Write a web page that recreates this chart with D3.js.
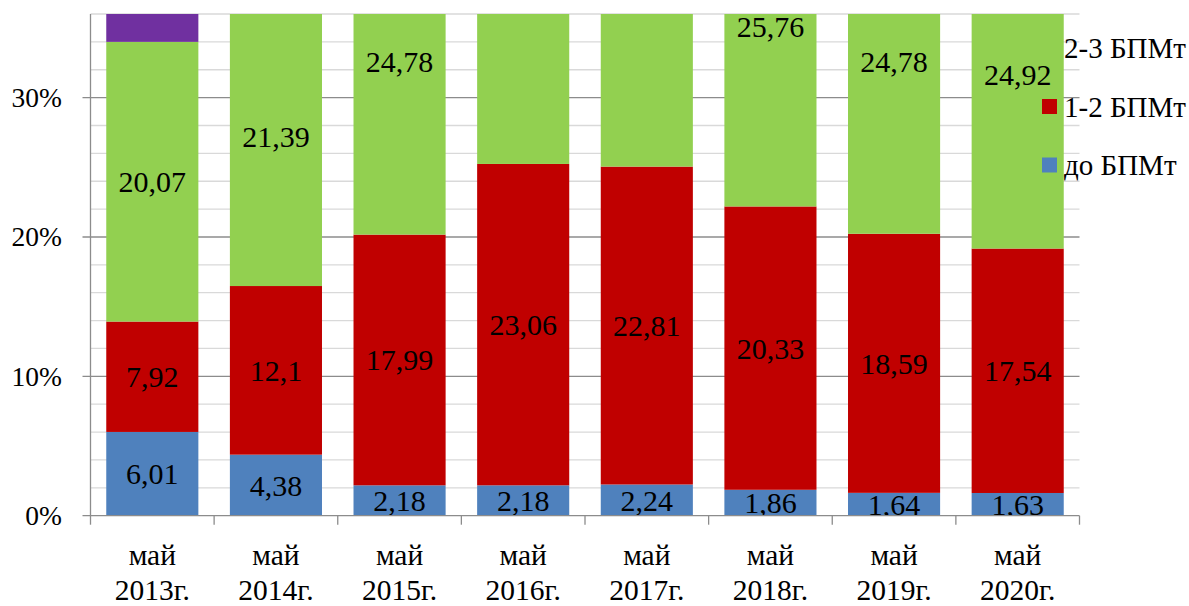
<!DOCTYPE html>
<html>
<head>
<meta charset="utf-8">
<script src="https://cdn.jsdelivr.net/npm/d3@7"></script>
<style>
  html, body { margin: 0; padding: 0; background: #fff; }
  svg { display: block; }
  svg text { font-family: "Liberation Serif", "Times New Roman", serif; }
</style>
</head>
<body>
<svg id="chart" width="1189" height="606"></svg>
<script>
// Share of population by income relative to the subsistence minimum (БПМт), %
const categories = ["май 2013г.", "май 2014г.", "май 2015г.", "май 2016г.", "май 2017г.", "май 2018г.", "май 2019г.", "май 2020г."];
const seriesNames = ["до БПМт", "1-2 БПМт", "2-3 БПМт", "свыше 3 БПМт"];
const belowMin   = [6.01, 4.38, 2.18, 2.18, 2.24, 1.86, 1.64, 1.63];
const oneToTwo   = [7.92, 12.1, 17.99, 23.06, 22.81, 20.33, 18.59, 17.54];
const twoToThree = [20.07, 21.39, 24.78, 26.5, 26.6, 25.76, 24.78, 24.92];
const aboveThree = [66.0, 62.13, 55.05, 48.26, 48.35, 52.05, 54.99, 55.91];
const seriesColors = ["#4F81BD", "#C00000", "#92D050", "#7030A0"];
const legendSeries = ["2-3 БПМт", "1-2 БПМт", "до БПМт"];
const yTicks = [0, 10, 20, 30];
const yMinorTicks = [2, 4, 6, 8, 12, 14, 16, 18, 22, 24, 26, 28, 32, 34, 36];

const seriesValues = [belowMin, oneToTwo, twoToThree, aboveThree];
const rows = categories.map((c, i) => {
  const r = { cat: c };
  seriesNames.forEach((s, k) => { r[s] = seriesValues[k][i]; });
  return r;
});
const stacked = d3.stack().keys(seriesNames)(rows);

const svg = d3.select("#chart");
const plot = { left: 90.5, right: 1079.5, top: 14, bottom: 515.7 };

const x = d3.scaleBand().domain(categories)
  .range([plot.left, plot.right]).paddingInner(0.255).paddingOuter(0.1275);
const y = d3.scaleLinear().domain([0, 36]).range([plot.bottom, plot.top]);
const color = d3.scaleOrdinal().domain(seriesNames).range(seriesColors);

svg.append("defs").append("clipPath").attr("id", "plotClip")
  .append("rect")
  .attr("x", plot.left).attr("y", plot.top)
  .attr("width", plot.right - plot.left).attr("height", plot.bottom - plot.top);

// minor gridlines
svg.append("g").selectAll("line").data(yMinorTicks).join("line")
  .attr("x1", plot.left).attr("x2", plot.right)
  .attr("y1", d => y(d)).attr("y2", d => y(d))
  .attr("stroke", "#D9D9D9").attr("stroke-width", 1.3);

// major gridlines with outer tick marks
svg.append("g").selectAll("line").data(yTicks.filter(d => d > 0)).join("line")
  .attr("x1", plot.left - 8).attr("x2", plot.right)
  .attr("y1", d => y(d)).attr("y2", d => y(d))
  .attr("stroke", "#8C8C8C").attr("stroke-width", 1.3);

// y tick labels
svg.append("g").selectAll("text").data(yTicks).join("text")
  .attr("x", 62).attr("y", d => y(d))
  .attr("text-anchor", "end").attr("dominant-baseline", "central")
  .attr("font-size", 27.5).attr("fill", "#000")
  .text(d => d + "%");

// stacked bars
const barG = svg.append("g").attr("clip-path", "url(#plotClip)");
barG.selectAll("g").data(stacked).join("g")
  .attr("fill", d => color(d.key))
  .selectAll("rect").data(d => d).join("rect")
  .attr("x", d => x(d.data.cat))
  .attr("width", x.bandwidth())
  .attr("y", d => y(d[1]))
  .attr("height", d => y(d[0]) - y(d[1]));

// value labels centred in each segment (only those inside the axis range)
const fmt = v => String(v).replace(".", ",");
const labelG = svg.append("g").attr("clip-path", "url(#plotClip)");
stacked.slice(0, 3).forEach(s => {
  s.forEach(d => {
    const mid = (d[0] + d[1]) / 2;
    if (mid > 36) return;
    labelG.append("text")
      .attr("x", x(d.data.cat) + x.bandwidth() / 2)
      .attr("y", y(mid))
      .attr("text-anchor", "middle").attr("dominant-baseline", "central")
      .attr("font-size", 30).attr("fill", "#000")
      .text(fmt(d.data[s.key]));
  });
});

// axis lines
svg.append("line")
  .attr("x1", plot.left).attr("x2", plot.left)
  .attr("y1", plot.top).attr("y2", plot.bottom)
  .attr("stroke", "#8C8C8C").attr("stroke-width", 1.3);
svg.append("line")
  .attr("x1", plot.left - 8).attr("x2", plot.right)
  .attr("y1", plot.bottom).attr("y2", plot.bottom)
  .attr("stroke", "#8C8C8C").attr("stroke-width", 1.3);

// category separators on the x axis
const boundaries = categories.map((c, i) => plot.left + i * x.step()).concat([plot.right]);
svg.append("g").selectAll("line").data(boundaries).join("line")
  .attr("x1", d => d).attr("x2", d => d)
  .attr("y1", plot.bottom).attr("y2", plot.bottom + 9)
  .attr("stroke", "#8C8C8C").attr("stroke-width", 1.3);

// category labels on two lines
const xl = svg.append("g").selectAll("text").data(categories).join("text")
  .attr("text-anchor", "middle").attr("font-size", 29.5).attr("fill", "#000");
xl.each(function (c) {
  const parts = c.split(" ");
  const t = d3.select(this);
  const cx = x(c) + x.bandwidth() / 2;
  t.append("tspan").attr("x", cx).attr("y", 564.5).text(parts[0]);
  t.append("tspan").attr("x", cx).attr("y", 600).text(parts[1]);
});

// legend
const leg = svg.append("g").selectAll("g").data(legendSeries).join("g")
  .attr("transform", (d, i) => `translate(1042, ${48 + i * 58.5})`);
leg.append("rect").attr("x", 0).attr("y", -7.5).attr("width", 15).attr("height", 15)
  .attr("fill", d => color(d));
leg.append("text").attr("x", 22).attr("y", 0)
  .attr("dominant-baseline", "central").attr("font-size", 29).attr("fill", "#000")
  .text(d => d);
</script>
</body>
</html>
